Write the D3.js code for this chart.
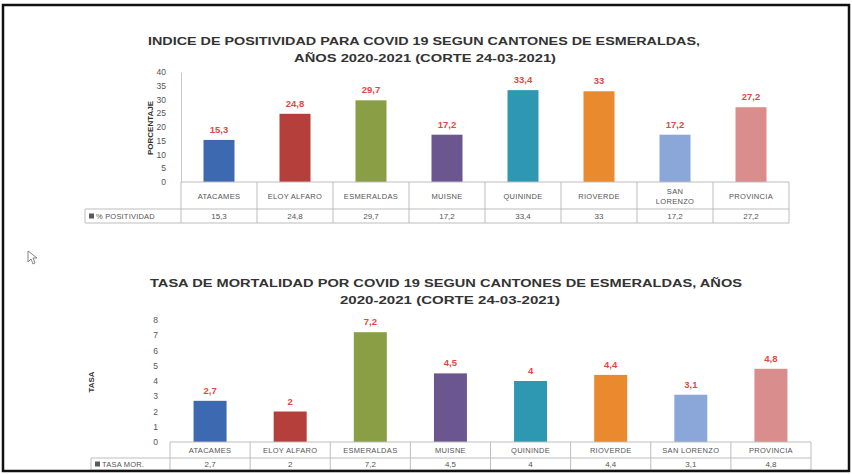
<!DOCTYPE html>
<html>
<head>
<meta charset="utf-8">
<script src="https://cdn.jsdelivr.net/npm/d3@7"></script>
<style>
  body { margin: 0; background: #fff; }
  svg { display: block; }
  text { font-family: "Liberation Sans Narrow", "Liberation Sans", Arial, sans-serif; }
</style>
</head>
<body>
<svg id="chart" width="852" height="474"></svg>
<script>
// data
const cantones = ["ATACAMES", "ELOY ALFARO", "ESMERALDAS", "MUISNE", "QUININDE", "RIOVERDE", "SAN LORENZO", "PROVINCIA"];
const positividad = [15.3, 24.8, 29.7, 17.2, 33.4, 33, 17.2, 27.2];
const tasaMortalidad = [2.7, 2, 7.2, 4.5, 4, 4.4, 3.1, 4.8];
const barColors = ["#3c69b0", "#b53f3b", "#8a9e45", "#6c5690", "#2e98b3", "#ea8a2f", "#8ba6d9", "#d98e8d"];
const ticksPositividad = [0, 5, 10, 15, 20, 25, 30, 35, 40];
const ticksTasa = [0, 1, 2, 3, 4, 5, 6, 7, 8];

const svg = d3.select("#chart");
const fmt = v => String(v).replace(".", ",");

const drawChart = cfg => {
  const g = svg.append("g");

  const x = d3.scaleBand().domain(cantones).range([cfg.left, cfg.right]).paddingInner(0).paddingOuter(0);
  const y = d3.scaleLinear().domain(cfg.domain).range([cfg.bottom, cfg.top]);
  const bw = cfg.barWidth;

  // title, two lines
  cfg.title.forEach((t, i) => {
    g.append("text")
      .attr("x", cfg.titleX[i]).attr("y", cfg.titleY + i * 17)
      .attr("text-anchor", "middle")
      .attr("font-size", 11).attr("font-weight", "bold").attr("fill", "#333")
      .attr("textLength", cfg.titleW[i]).attr("lengthAdjust", "spacingAndGlyphs")
      .text(t);
  });

  // y axis
  const ax = g.append("g")
    .attr("transform", `translate(${cfg.left},0)`)
    .call(d3.axisLeft(y).tickValues(cfg.ticks).tickSize(0).tickPadding(cfg.tickPad));
  ax.selectAll("text").attr("font-size", 8.5).attr("fill", "#555").style("font-family", "'Liberation Sans', Arial, sans-serif");
  if (cfg.axisLine) ax.select(".domain").attr("stroke", "#c8c8c8");
  else ax.select(".domain").remove();

  g.append("text")
    .attr("transform", `translate(${cfg.yTitleX},${cfg.yTitleY}) rotate(-90)`)
    .attr("text-anchor", "middle")
    .attr("font-size", 8).attr("font-weight", "bold").attr("fill", "#333")
    .text(cfg.yTitle);

  // bars
  g.selectAll("rect.bar").data(cfg.values).enter().append("rect")
    .attr("class", "bar")
    .attr("x", (d, i) => x(cantones[i]) + (x.bandwidth() - bw) / 2)
    .attr("y", d => y(d))
    .attr("width", bw)
    .attr("height", d => y(0) - y(d))
    .attr("fill", (d, i) => barColors[i]);

  g.selectAll("text.val").data(cfg.values).enter().append("text")
    .attr("class", "val")
    .attr("x", (d, i) => x(cantones[i]) + x.bandwidth() / 2)
    .attr("y", d => y(d) - 7)
    .attr("text-anchor", "middle")
    .attr("font-size", 9.5).attr("font-weight", "bold").attr("fill", "#e4473f")
    .text(fmt);

  // data table under the axis
  const rowTop = cfg.bottom, rowMid = cfg.rowMid, rowBot = cfg.rowBot;
  const line = (x1, y1, x2, y2) => g.append("line")
    .attr("x1", x1).attr("y1", y1).attr("x2", x2).attr("y2", y2)
    .attr("stroke", "#bdbdbd").attr("stroke-width", 1);
  line(cfg.left, rowTop, cfg.right, rowTop);
  line(cfg.headLeft, rowMid, cfg.right, rowMid);
  line(cfg.headLeft, rowBot, cfg.right, rowBot);
  line(cfg.headLeft, rowMid, cfg.headLeft, rowBot);
  cantones.forEach(c => line(x(c), rowTop, x(c), rowBot));
  line(cfg.right, rowTop, cfg.right, rowBot);

  cantones.forEach((c, i) => {
    const cx = x(c) + x.bandwidth() / 2;
    const lines = cfg.catLines[i];
    lines.forEach((l, j) => {
      g.append("text")
        .attr("x", cx)
        .attr("y", (rowTop + rowMid) / 2 + 3 + (j - (lines.length - 1) / 2) * 10)
        .attr("text-anchor", "middle")
        .attr("font-size", 7.5).attr("letter-spacing", 0.3).attr("fill", "#555")
        .text(l);
    });
    g.append("text")
      .attr("x", cx).attr("y", (rowMid + rowBot) / 2 + 3)
      .attr("text-anchor", "middle")
      .attr("font-size", 8).attr("fill", "#555")
      .text(fmt(cfg.values[i]));
  });

  g.append("rect")
    .attr("x", cfg.headLeft + 4).attr("y", (rowMid + rowBot) / 2 - 2.5)
    .attr("width", 5).attr("height", 5).attr("fill", "#5a5a5a");
  g.append("text")
    .attr("x", cfg.headLeft + 11).attr("y", (rowMid + rowBot) / 2 + 3)
    .attr("font-size", 7.5).attr("letter-spacing", 0.2).attr("fill", "#555")
    .text(cfg.seriesName);
};

drawChart({
  values: positividad,
  domain: [0, 40], ticks: ticksPositividad,
  left: 181, right: 789, top: 72, bottom: 182, rowMid: 209, rowBot: 223, headLeft: 85,
  barWidth: 31, tickPad: 15, axisLine: true,
  title: ["INDICE DE POSITIVIDAD PARA COVID 19 SEGUN CANTONES DE ESMERALDAS,", "AÑOS 2020-2021  (CORTE 24-03-2021)"],
  titleX: [424, 425], titleY: 45, titleW: [552, 262],
  yTitle: "PORCENTAJE", yTitleX: 153, yTitleY: 128,
  seriesName: "% POSITIVIDAD",
  catLines: cantones.map(c => c == "SAN LORENZO" ? ["SAN", "LORENZO"] : [c])
});

drawChart({
  values: tasaMortalidad,
  domain: [0, 8], ticks: ticksTasa,
  left: 170, right: 811, top: 320, bottom: 442, rowMid: 458, rowBot: 470, headLeft: 91,
  barWidth: 33, tickPad: 12, axisLine: false,
  title: ["TASA DE MORTALIDAD POR COVID 19 SEGUN CANTONES DE ESMERALDAS, AÑOS", "2020-2021  (CORTE 24-03-2021)"],
  titleX: [446, 450], titleY: 287, titleW: [592, 220],
  yTitle: "TASA", yTitleX: 94, yTitleY: 382,
  seriesName: "TASA MOR.",
  catLines: cantones.map(c => [c])
});

// mouse pointer left in the screenshot
svg.append("path")
  .attr("d", "M0,0 L0,11 L3,8 L5,13 L7,12 L5,7 L9,7 Z")
  .attr("transform", "translate(28,251)")
  .attr("fill", "#fff").attr("stroke", "#777").attr("stroke-width", 0.9);

// outer frame of the screenshot, drawn last so it sits on top
svg.append("rect")
  .attr("x", 3).attr("y", 5).attr("width", 846).attr("height", 466)
  .attr("fill", "none").attr("stroke", "#111").attr("stroke-width", 2.5);
</script>
</body>
</html>
